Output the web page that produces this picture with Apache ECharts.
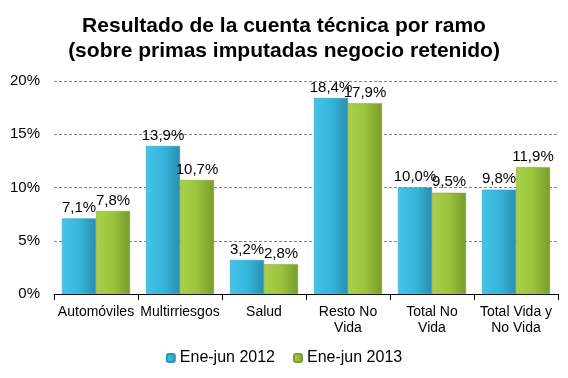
<!DOCTYPE html>
<html><head><meta charset="utf-8">
<script src="https://cdn.jsdelivr.net/npm/echarts@6/dist/echarts.min.js"></script>
<style>html,body{margin:0;padding:0;background:#fff}#c{width:568px;height:378px}</style>
</head><body><div id="c"></div>
<script>
const categories = ['Automóviles', 'Multirriesgos', 'Salud', 'Resto No\nVida', 'Total No\nVida', 'Total Vida y\nNo Vida'];
const serie2012 = [7.1, 13.9, 3.2, 18.4, 10.0, 9.8];
const serie2013 = [7.8, 10.7, 2.8, 17.9, 9.5, 11.9];
const seriesNames = ['Ene-jun 2012', 'Ene-jun 2013'];
const yTicks = [0, 5, 10, 15, 20];

const font = 'Liberation Sans, Arial, sans-serif';
function grad(c1, c2, c3) {
  return new echarts.graphic.LinearGradient(0, 0, 1, 0, [
    {offset: 0, color: c1}, {offset: 0.5, color: c2}, {offset: 1, color: c3}
  ]);
}
const fmt = p => p.value.toFixed(1).replace('.', ',') + '%';
const chart = echarts.init(document.getElementById('c'));
chart.setOption({
  animation: false,
  textStyle: {fontFamily: font},
  title: {
    text: 'Resultado de la cuenta técnica por ramo\n(sobre primas imputadas negocio retenido)',
    left: 'center', top: 9,
    textStyle: {fontFamily: font, fontSize: 21, fontWeight: 'bold', color: '#000', lineHeight: 25}
  },
  legend: {
    bottom: 7, left: 'center', itemWidth: 8, itemHeight: 8, itemGap: 18,
    textStyle: {fontFamily: font, fontSize: 16, color: '#000'},
    data: seriesNames
  },
  grid: {left: 54, right: 10, top: 81, bottom: 84},
  xAxis: {
    type: 'category', data: categories,
    axisLine: {lineStyle: {color: '#000'}},
    axisTick: {show: true, length: 6, lineStyle: {color: '#000'}},
    axisLabel: {interval: 0, color: '#000', fontSize: 14, fontFamily: font, lineHeight: 16, margin: 10}
  },
  yAxis: {
    type: 'value', min: yTicks[0], max: yTicks[yTicks.length - 1], interval: 5,
    axisLine: {show: false}, axisTick: {show: false},
    axisLabel: {formatter: '{value}%', color: '#000', fontSize: 15, fontFamily: font, margin: 14},
    splitLine: {lineStyle: {color: '#888', type: [3, 2]}}
  },
  series: [
    {name: seriesNames[0], type: 'bar', data: serie2012, barGap: '0%', barCategoryGap: '19%',
     itemStyle: {color: grad('#45c4e8', '#35b6dd', '#2a8fb0'), borderColor: '#2d94b6', borderWidth: 0.5},
     label: {show: true, position: 'top', distance: 3, formatter: fmt, color: '#000', fontSize: 15, fontFamily: font}},
    {name: seriesNames[1], type: 'bar', data: serie2013,
     itemStyle: {color: grad('#a9d04a', '#9bc43c', '#7a9b2c'), borderColor: '#7e9f30', borderWidth: 0.5},
     label: {show: true, position: 'top', distance: 3, formatter: fmt, color: '#000', fontSize: 15, fontFamily: font}}
  ]
});
</script></body></html>
